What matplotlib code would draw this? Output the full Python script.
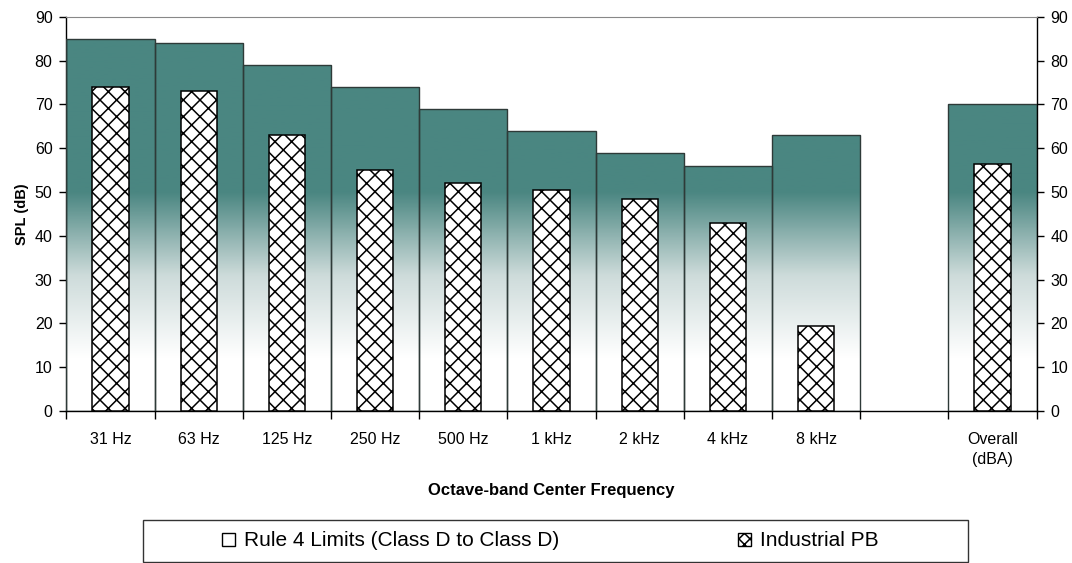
import numpy as np
import matplotlib
matplotlib.use("Agg")
from matplotlib import pyplot as plt
from matplotlib.colors import LinearSegmentedColormap
from matplotlib.patches import Patch, Rectangle

plt.rcParams['font.family'] = ['Liberation Sans', 'DejaVu Sans']
plt.rcParams['hatch.linewidth'] = 1.1

bands = ['31 Hz', '63 Hz', '125 Hz', '250 Hz', '500 Hz', '1 kHz', '2 kHz', '4 kHz', '8 kHz', '', 'Overall\n(dBA)']
rule4_limits = [85, 84, 79, 74, 69, 64, 59, 56, 63, np.nan, 70]
industrial_pb = [74, 73, 63, 55, 52, 50.5, 48.5, 43, 19.5, np.nan, 56.5]

TEAL = '#4a8681'

fig = plt.figure(figsize=(10.72, 5.63), dpi=100)
ax = fig.add_axes([0.062, 0.27, 0.905, 0.70])

x = np.arange(len(bands))
ax.set_xlim(-0.5, len(bands) - 0.5)
ax.set_ylim(0, 90)

# wide limit bars, filled with a vertical fade (teal above ~50 dB, white near the floor)
limit_bars = ax.bar(x, rule4_limits, width=1.0, facecolor='none', edgecolor='#2e3a38', linewidth=1.0, zorder=3)

fade = LinearSegmentedColormap.from_list('fade', ['white', '#cddbda', TEAL])
grad = np.linspace(0, 90, 300).reshape(-1, 1)
grad_vals = np.clip((grad - 12) / (50 - 12), 0, 1)
for bar in limit_bars:
    if np.isnan(bar.get_height()):
        continue
    im = ax.imshow(grad_vals, cmap=fade, aspect='auto', origin='lower',
                   extent=(-0.5, len(bands) - 0.5, 0, 90), zorder=2, vmin=0, vmax=1)
    im.set_clip_path(bar)

ax.bar(x, industrial_pb, width=0.41, facecolor='white', edgecolor='black', hatch='xx', linewidth=1.1, zorder=4)

# category boundaries as major ticks, labels on the minor ones
ax.set_xticks(np.arange(-0.5, len(bands) + 0.5, 1.0))
ax.set_xticklabels([])
ax.set_xticks(x, minor=True)
ax.set_xticklabels(bands, minor=True, fontsize=11.5, linespacing=1.45)
ax.tick_params(axis='x', which='minor', length=0, pad=15)
ax.tick_params(axis='x', which='major', length=6, width=1, direction='out')

ax.set_yticks(np.arange(0, 91, 10))
ax.tick_params(axis='y', labelsize=11.5, length=5, width=1, direction='out', right=True, labelright=True, pad=5)

ax.set_ylabel('SPL (dB)', fontsize=10.5, fontweight='bold', labelpad=4)
ax.set_xlabel('Octave-band Center Frequency', fontsize=12, fontweight='bold', labelpad=11)

for side in ['left', 'right', 'bottom']:
    ax.spines[side].set_color('black')
    ax.spines[side].set_linewidth(1.0)
ax.spines['top'].set_color('#888888')

handles = [Patch(facecolor='white', edgecolor='black', linewidth=1.0),
           Patch(facecolor='white', edgecolor='black', hatch='xxx', linewidth=1.0)]
labels = ['Rule 4 Limits (Class D to Class D)', 'Industrial PB']
leg = fig.legend(handles, labels, loc='center left', bbox_to_anchor=(222 / 1072, 1 - 541 / 563), ncol=2,
                 fontsize=15, frameon=False, handlelength=0.6, handleheight=0.6,
                 handletextpad=0.45, columnspacing=8.6, borderpad=0, borderaxespad=0)

# legend box spanning most of the figure width
fig.patches.append(Rectangle((143 / 1072, 1 - 562 / 563), (968 - 143) / 1072, 42 / 563,
                             transform=fig.transFigure, facecolor='none', edgecolor='#333333',
                             linewidth=1.0))

fig.savefig('out.png', dpi=100)
